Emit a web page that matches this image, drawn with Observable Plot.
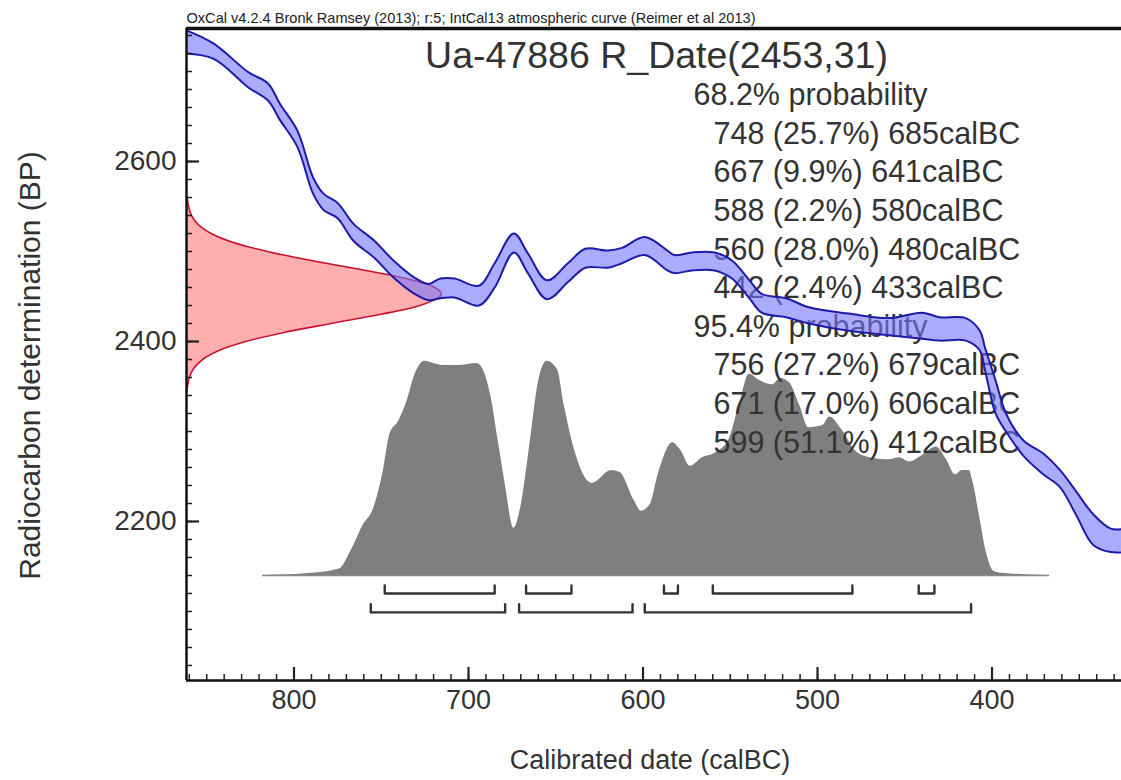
<!DOCTYPE html>
<html><head><meta charset="utf-8">
<script src="https://cdn.jsdelivr.net/npm/d3@7"></script>
<script src="https://cdn.jsdelivr.net/npm/@observablehq/plot@0.6"></script>
<style>html,body{margin:0;padding:0;background:#fff;} #chart svg{display:block}</style>
</head><body><div id="chart"></div>
<script>
// ---------- data ----------
const calDate  = [862, 846, 826, 815, 808, 798, 789, 783, 775, 766, 754, 743, 731, 723, 716, 708, 694, 685, 674, 666, 655, 643, 633, 620, 612, 599, 586, 582, 572, 559, 549, 539, 532, 518, 505, 482, 459, 440, 430, 415, 407, 404, 398, 392, 382, 371, 361, 352, 342, 332, 324];
const calUpper = [2746, 2731, 2699, 2687, 2664, 2634, 2582, 2564, 2554, 2531, 2512, 2490, 2471, 2464, 2470, 2470, 2462, 2487, 2520, 2498, 2468, 2487, 2503, 2501, 2504, 2516, 2501, 2496, 2499, 2499, 2490, 2468, 2453, 2448, 2438, 2431, 2426, 2432, 2427, 2426, 2412, 2393, 2357, 2320, 2290, 2276, 2257, 2234, 2208, 2192, 2192];
const calLower = [2720, 2714, 2682, 2668, 2646, 2616, 2564, 2546, 2537, 2512, 2493, 2471, 2453, 2446, 2448, 2449, 2440, 2460, 2499, 2476, 2447, 2466, 2482, 2482, 2487, 2496, 2479, 2476, 2479, 2479, 2470, 2448, 2432, 2427, 2420, 2412, 2407, 2403, 2401, 2401, 2390, 2368, 2320, 2300, 2273, 2253, 2238, 2208, 2174, 2166, 2166];

const postDate = [818, 790, 774, 767, 760, 755, 749, 745, 740, 735, 731, 725, 720, 714, 706, 695, 691, 687, 683, 679, 674, 670, 665, 660, 655, 649, 645, 639, 629, 618, 613, 605, 601, 596, 591, 583, 578, 573, 566, 559, 551, 545, 539, 533, 526, 521, 516, 510, 505, 497, 493, 486, 478, 470, 459, 453, 447, 440, 432, 426, 421, 417, 413, 411, 407, 403, 399, 394, 367];
const postProb = [0, 0.01, 0.03, 0.12, 0.24, 0.30, 0.48, 0.66, 0.72, 0.82, 0.93, 1.00, 0.99, 0.98, 0.98, 0.99, 0.95, 0.83, 0.63, 0.43, 0.22, 0.32, 0.60, 0.90, 1.00, 0.96, 0.79, 0.58, 0.43, 0.49, 0.48, 0.35, 0.30, 0.33, 0.48, 0.62, 0.58, 0.51, 0.55, 0.57, 0.63, 0.79, 0.94, 0.91, 0.89, 0.92, 0.90, 0.79, 0.69, 0.70, 0.74, 0.68, 0.58, 0.55, 0.54, 0.55, 0.53, 0.56, 0.60, 0.54, 0.47, 0.49, 0.49, 0.44, 0.27, 0.10, 0.02, 0.01, 0];

const redBP   = [2345, 2350, 2360, 2370, 2380, 2390, 2400, 2410, 2420, 2430, 2440, 2450, 2453, 2460, 2470, 2480, 2490, 2500, 2510, 2520, 2530, 2540, 2550, 2560];
const redProb = [0.002, 0.004, 0.011, 0.028, 0.063, 0.127, 0.232, 0.382, 0.567, 0.759, 0.916, 0.995, 1, 0.975, 0.861, 0.684, 0.490, 0.317, 0.184, 0.097, 0.046, 0.020, 0.008, 0.003];

const range68From = [748, 667, 588, 560, 442];
const range68To   = [685, 641, 580, 480, 433];
const range68Pct  = ["25.7%", "9.9%", "2.2%", "28.0%", "2.4%"];
const range95From = [756, 671, 599];
const range95To   = [679, 606, 412];
const range95Pct  = ["27.2%", "17.0%", "51.1%"];

const xTicks = [800, 700, 600, 500, 400];
const yTicks = [2600, 2400, 2200];

const captionText = "OxCal v4.2.4 Bronk Ramsey (2013); r:5; IntCal13 atmospheric curve (Reimer et al 2013)";
const titleText = "Ua-47886 R_Date(2453,31)";
const head68 = "68.2% probability";
const head95 = "95.4% probability";
const xLabel = "Calibrated date (calBC)";
const yLabel = "Radiocarbon determination (BP)";

// ---------- layout constants ----------
const X_LEFT = 861.6, X_RIGHT = 325.8, Y_BOTTOM = 2023.3, Y_TOP = 2747.8;
const PX_PER_YR = 935 / (X_LEFT - X_RIGHT), PX_PER_BP = 652 / (Y_TOP - Y_BOTTOM);
const POST_BASE = 2140, POST_HEIGHT = 238;
const RED_SPAN = 146;
const BR68 = {bottom: 2120, top: 2129};
const BR95 = {bottom: 2099, top: 2108};
const TXT = "#333";

const cal = calDate.map((d, i) => ({date: d, up: calUpper[i], lo: calLower[i]}));
const post = postDate.map((d, i) => ({date: d, y1: POST_BASE, y2: POST_BASE + postProb[i] * POST_HEIGHT}));
const red = redBP.map((b, i) => ({bp: b, x1: X_LEFT, x2: X_LEFT - redProb[i] * RED_SPAN}));

function brackets(from, to, lv, tag) {
  return from.flatMap((f, i) => [
    {id: tag + i, x: f, y: lv.top}, {id: tag + i, x: f, y: lv.bottom},
    {id: tag + i, x: to[i], y: lv.bottom}, {id: tag + i, x: to[i], y: lv.top}
  ]);
}
const brData = brackets(range68From, range68To, BR68, "a").concat(brackets(range95From, range95To, BR95, "b"));

const lines = [{t: head68, ind: 0}]
  .concat(range68From.map((f, i) => ({t: `${f} (${range68Pct[i]}) ${range68To[i]}calBC`, ind: 1})))
  .concat([{t: head95, ind: 0}])
  .concat(range95From.map((f, i) => ({t: `${f} (${range95Pct[i]}) ${range95To[i]}calBC`, ind: 1})));

const textMarks = lines.map((l, i) => Plot.text([l.t], {
  text: d => d, frameAnchor: "top-left", dx: l.ind ? 527 : 507, dy: 67 + i * 38.6,
  textAnchor: "start", lineAnchor: "middle", fontSize: 30.5, fill: TXT
}));

const minorX = d3.range(330, 861, 10);
const minorY = d3.range(2040, 2741, 20);

const chart = Plot.plot({
  width: 1121, height: 780,
  marginLeft: 186, marginRight: 0, marginTop: 28, marginBottom: 100,
  style: {fontFamily: "'Liberation Sans', Arial, sans-serif", color: "#222", background: "#fff"},
  x: {domain: [X_LEFT, X_RIGHT]},
  y: {domain: [Y_BOTTOM, Y_TOP]},
  marks: [
    Plot.areaX(red, {y: "bp", x1: "x1", x2: "x2", fill: "#ff8f8f", fillOpacity: 0.72, curve: "catmull-rom", clip: true}),
    Plot.line(red, {y: "bp", x: "x2", stroke: "#c8102e", strokeWidth: 1.6, curve: "catmull-rom", clip: true}),
    Plot.areaY(post, {x: "date", y1: "y1", y2: "y2", fill: "#7f7f7f", curve: "monotone-x"}),
    Plot.ruleY([POST_BASE], {x1: postDate[0], x2: postDate[postDate.length - 1], stroke: "#8a8a8a", strokeWidth: 1.5}),
    Plot.line(brData, {x: "x", y: "y", z: "id", stroke: "#333", strokeWidth: 2.4}),
    ...textMarks,
    Plot.areaY(cal, {x: "date", y1: "lo", y2: "up", fill: "#7474ff", fillOpacity: 0.6, curve: "catmull-rom", clip: true}),
    Plot.line(cal, {x: "date", y: "up", stroke: "#1c1ca8", strokeWidth: 2, curve: "catmull-rom", clip: true}),
    Plot.line(cal, {x: "date", y: "lo", stroke: "#1c1ca8", strokeWidth: 2, curve: "catmull-rom", clip: true}),
    Plot.text([titleText], {text: d => d, frameAnchor: "top-left", dx: 470, dy: 27, textAnchor: "middle", lineAnchor: "middle", fontSize: 37.5, fill: TXT}),
    Plot.text([captionText], {text: d => d, frameAnchor: "top-left", dy: -10, textAnchor: "start", lineAnchor: "middle", fontSize: 15, fill: "#222"}),
    Plot.text([yLabel], {text: d => d, frameAnchor: "left", dx: -156, dy: 11, rotate: -90, textAnchor: "middle", lineAnchor: "middle", fontSize: 30, fill: TXT}),
    Plot.text([xLabel], {text: d => d, frameAnchor: "bottom", dx: -4, dy: 80, textAnchor: "middle", lineAnchor: "middle", fontSize: 27, fill: TXT}),
    // inward tick marks
    Plot.ruleX(minorX, {y1: Y_BOTTOM, y2: Y_BOTTOM + 6 / PX_PER_BP, stroke: "#222", strokeWidth: 1.5}),
    Plot.ruleX(xTicks, {y1: Y_BOTTOM, y2: Y_BOTTOM + 13 / PX_PER_BP, stroke: "#222", strokeWidth: 2.2}),
    Plot.ruleY(minorY, {x1: X_LEFT, x2: X_LEFT - 6 / PX_PER_YR, stroke: "#222", strokeWidth: 1.5}),
    Plot.ruleY(yTicks, {x1: X_LEFT, x2: X_LEFT - 13 / PX_PER_YR, stroke: "#222", strokeWidth: 2.2}),
    // tick labels
    Plot.axisX(xTicks, {tickSize: 0, tickPadding: 9, fontSize: 27, label: null, tickFormat: d => String(d), fill: TXT}),
    Plot.axisY(yTicks, {tickSize: 0, tickPadding: 10, fontSize: 28, label: null, tickFormat: d => String(d), fill: TXT}),
    // frame
    Plot.ruleY([Y_TOP], {stroke: "#111", strokeWidth: 3.5}),
    Plot.ruleY([Y_BOTTOM], {stroke: "#111", strokeWidth: 2.5}),
    Plot.ruleX([X_LEFT], {stroke: "#111", strokeWidth: 2.5})
  ]
});
document.getElementById("chart").appendChild(chart);
chart.querySelectorAll("text").forEach(t => {
  if (t.textContent.startsWith("OxCal")) {
    t.setAttribute("textLength", 569);
    t.setAttribute("lengthAdjust", "spacingAndGlyphs");
  }
});
</script>
</body></html>
